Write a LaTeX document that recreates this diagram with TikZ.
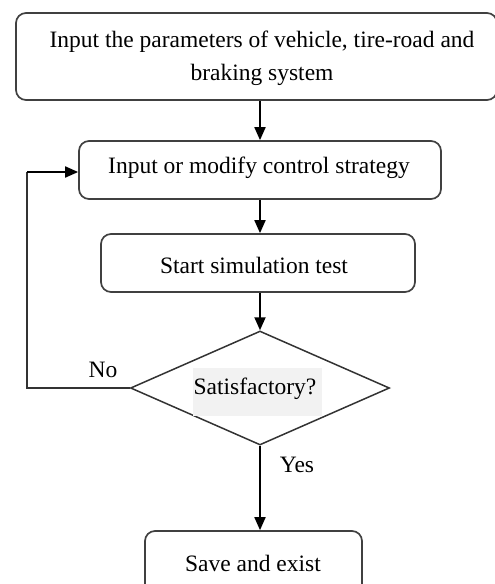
\documentclass[tikz,border=0pt]{standalone}
\usepackage{fontspec}
\setmainfont{Liberation Serif}
\usetikzlibrary{arrows.meta,shapes.geometric}
\begin{document}
\begin{tikzpicture}[x=1pt,y=-1pt,
  box/.style={draw=black!75,line width=1.7pt,rounded corners=10pt,inner sep=0pt},
  arr/.style={line width=1.8pt,-{Triangle[length=13pt,width=11pt]}},
  ln/.style={line width=1.8pt,draw=black!80},
  txt/.style={font=\fontsize{23.5}{33}\selectfont,inner sep=0pt}]
\useasboundingbox (0,0) rectangle (495,584);
% boxes
\node[box,minimum width=481pt,minimum height=87pt] (b1) at (256.5,56.5) {};
\node[txt,align=center] (t1) at (262,58) {Input the parameters of vehicle, tire-road and\\braking system};
\node[box,minimum width=362pt,minimum height=58pt] (b2) at (260,170) {};
\node[txt] (t2) at (259,168) {Input or modify control strategy};
\node[box,minimum width=314pt,minimum height=58pt] (b3) at (258,263) {};
\node[txt] (t3) at (254,265) {Start simulation test};
\node[draw=black!80,line width=1.5pt,diamond,aspect=2.27,minimum width=259pt,minimum height=114pt,inner sep=0pt] (d) at (260,388) {};
\node[fill=black!5,minimum width=129pt,minimum height=48pt,inner sep=0pt] (hl) at (257.5,392) {};
\node[txt] (t4) at (255,389) {Satisfactory?};
\node[box,minimum width=217pt,minimum height=70pt] (b4) at (253.5,566) {};
\node[txt] (t5) at (253,563) {Save and exist};
% labels
\node[txt] (no) at (103,370) {No};
\node[txt] (yes) at (297,465) {Yes};
% connectors
\draw[arr] (b1.south -| d.north) -- (b2.north -| d.north);
\draw[arr] (b2.south -| d.north) -- (b3.north -| d.north);
\draw[arr] (b3.south -| d.north) -- (d.north);
\draw[arr] (d.south) -- (b4.north -| d.south);
\coordinate (c1) at (27,388);
\coordinate (c2) at (27,172);
\draw[ln] (d.west) -- (c1) -- (c2);
\draw[arr] (c2) -- (b2.west |- c2);
\end{tikzpicture}
\end{document}
